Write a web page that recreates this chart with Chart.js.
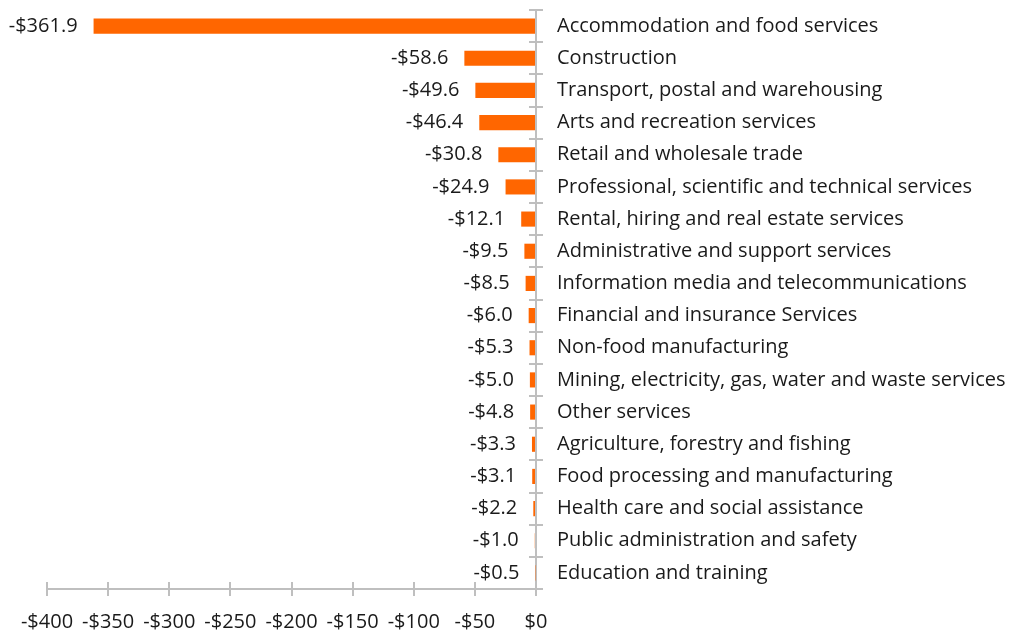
<!DOCTYPE html>
<html>
<head>
<meta charset="utf-8">
<script src="https://cdn.jsdelivr.net/npm/chart.js@4/dist/chart.umd.min.js"></script>
<style>
  html, body { margin: 0; padding: 0; background: #fff; }
  #wrap { width: 1013px; height: 636px; }
</style>
</head>
<body>
<div id="wrap"><canvas id="impactChart" width="1013" height="636"></canvas></div>
<script>
// industries, top to bottom
const industries = [
  "Accommodation and food services",
  "Construction",
  "Transport, postal and warehousing",
  "Arts and recreation services",
  "Retail and wholesale trade",
  "Professional, scientific and technical services",
  "Rental, hiring and real estate services",
  "Administrative and support services",
  "Information media and telecommunications",
  "Financial and insurance Services",
  "Non-food manufacturing",
  "Mining, electricity, gas, water and waste services",
  "Other services",
  "Agriculture, forestry and fishing",
  "Food processing and manufacturing",
  "Health care and social assistance",
  "Public administration and safety",
  "Education and training"
];

const impactValues = [-361.9, -58.6, -49.6, -46.4, -30.8, -24.9, -12.1, -9.5, -8.5, -6.0, -5.3, -5.0, -4.8, -3.3, -3.1, -2.2, -1.0, -0.5];

const xTicks = [-400, -350, -300, -250, -200, -150, -100, -50, 0];

const FONT = "'Open Sans', 'Noto Sans', sans-serif";
const TEXT = "#1a1a1a";
const AXIS = "#bfbfbf";
const TICK = 7;

function money(v) {
  return (v < 0 ? "-$" : "$") + Math.abs(v);
}

// value labels left of each bar
const valueLabels = {
  id: "valueLabels",
  afterDatasetsDraw(chart) {
    const ctx = chart.ctx;
    const meta = chart.getDatasetMeta(0);
    ctx.save();
    ctx.font = "20px " + FONT;
    ctx.fillStyle = TEXT;
    ctx.textAlign = "right";
    ctx.textBaseline = "middle";
    meta.data.forEach((bar, i) => {
      const v = impactValues[i];
      ctx.fillText("-$" + Math.abs(v).toFixed(1), bar.x - 16, bar.y);
    });
    ctx.restore();
  }
};

// inner half of the tick marks, so they cross the axis lines
const crossTicks = {
  id: "crossTicks",
  afterDraw(chart) {
    const ctx = chart.ctx;
    const x = chart.scales.x;
    const area = chart.chartArea;
    ctx.save();
    ctx.strokeStyle = AXIS;
    ctx.lineWidth = 2;
    ctx.beginPath();
    x.ticks.forEach((t, i) => {
      const px = Math.round(x.getPixelForTick(i));
      ctx.moveTo(px, area.bottom - TICK);
      ctx.lineTo(px, area.bottom);
    });
    for (let i = 0; i <= industries.length; i++) {
      const py = Math.round(area.top + (area.bottom - area.top) * i / industries.length);
      ctx.moveTo(area.right - TICK, py);
      ctx.lineTo(area.right + TICK, py);
    }
    ctx.stroke();
    ctx.restore();
  }
};

new Chart(document.getElementById("impactChart"), {
  type: "bar",
  data: {
    labels: industries,
    datasets: [{
      data: impactValues,
      backgroundColor: "#ff6600",
      borderWidth: 0,
      barPercentage: 0.47,
      categoryPercentage: 1.0
    }]
  },
  options: {
    indexAxis: "y",
    responsive: false,
    animation: false,
    layout: { padding: { left: 47, right: 0, top: 10, bottom: 0 } },
    plugins: {
      legend: { display: false },
      tooltip: { enabled: false }
    },
    scales: {
      x: {
        min: -400,
        max: 0,
        afterBuildTicks(scale) {
          scale.ticks = xTicks.map((v) => ({ value: v }));
        },
        afterFit(scale) {
          scale.height = 47;
          scale.paddingLeft = 0;
          scale.paddingRight = 0;
        },
        grid: {
          drawOnChartArea: false,
          drawTicks: true,
          tickLength: TICK,
          color: AXIS,
          lineWidth: 2
        },
        border: { display: true, color: AXIS, width: 2 },
        ticks: {
          color: TEXT,
          font: { family: FONT, size: 20 },
          padding: 14,
          maxRotation: 0,
          callback: (v) => money(v)
        }
      },
      y: {
        position: "right",
        afterFit(scale) {
          scale.width = 477;
          scale.paddingTop = 0;
          scale.paddingBottom = 0;
        },
        grid: {
          drawOnChartArea: false,
          drawTicks: false
        },
        border: { display: true, color: AXIS, width: 2 },
        ticks: {
          color: TEXT,
          font: { family: FONT, size: 20 },
          padding: 21,
          autoSkip: false
        }
      }
    }
  },
  plugins: [valueLabels, crossTicks]
});
</script>
</body>
</html>
